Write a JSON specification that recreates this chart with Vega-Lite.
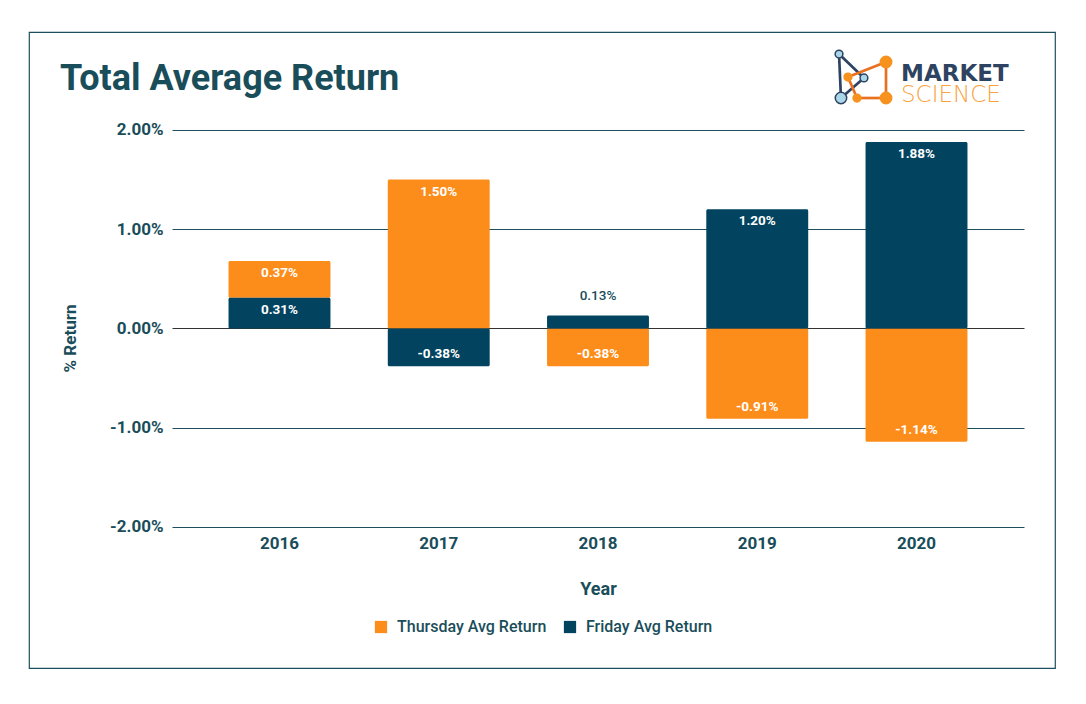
{
  "$schema": "https://vega.github.io/schema/vega-lite/v6.json",
  "width": 1026,
  "height": 636,
  "autosize": {"type": "none"},
  "padding": {"left": 29, "top": 32, "right": 31, "bottom": 36},
  "background": "white",
  "config": {
    "font": "Roboto",
    "view": {"stroke": "#1d4f5e", "strokeWidth": 1.2},
    "locale": {"number": {"decimal": ".", "thousands": ",", "grouping": [3], "currency": ["$", ""], "minus": "-"}}
  },
  "title": {
    "text": "Total Average Return",
    "anchor": "start",
    "frame": "group",
    "orient": "top",
    "fontSize": 36,
    "fontWeight": "bold",
    "font": "Roboto",
    "color": "#1a4d5a",
    "baseline": "alphabetic",
    "offset": 0,
    "dx": 31,
    "dy": 94
  },
  "datasets": {
    "returns": [
      {"year": "2016", "series": "Thursday Avg Return", "value": 0.0037},
      {"year": "2016", "series": "Friday Avg Return", "value": 0.0031},
      {"year": "2017", "series": "Thursday Avg Return", "value": 0.0150},
      {"year": "2017", "series": "Friday Avg Return", "value": -0.0038},
      {"year": "2018", "series": "Thursday Avg Return", "value": -0.0038},
      {"year": "2018", "series": "Friday Avg Return", "value": 0.0013},
      {"year": "2019", "series": "Thursday Avg Return", "value": -0.0091},
      {"year": "2019", "series": "Friday Avg Return", "value": 0.0120},
      {"year": "2020", "series": "Thursday Avg Return", "value": -0.0114},
      {"year": "2020", "series": "Friday Avg Return", "value": 0.0188}
    ],
    "logoNodes": [
      {"lx": 78.95, "ly": 96.54, "group": "navy", "node": "small"},
      {"lx": 79.14, "ly": 89.62, "group": "navy", "node": "big"},
      {"lx": 81.38, "ly": 92.77, "group": "navy", "node": "small"},
      {"lx": 83.53, "ly": 95.28, "group": "orange", "node": "big"},
      {"lx": 83.53, "ly": 89.62, "group": "orange", "node": "big"},
      {"lx": 79.82, "ly": 92.92, "group": "orange", "node": "small"},
      {"lx": 80.70, "ly": 89.62, "group": "orange", "node": "small"}
    ],
    "logoLinks": [
      {"x1": 78.95, "y1": 96.54, "x2": 79.14, "y2": 89.62, "group": "navy"},
      {"x1": 78.95, "y1": 96.54, "x2": 81.38, "y2": 92.77, "group": "navy"},
      {"x1": 81.38, "y1": 92.77, "x2": 79.14, "y2": 89.62, "group": "navy"},
      {"x1": 79.82, "y1": 92.92, "x2": 83.53, "y2": 95.28, "group": "orange"},
      {"x1": 83.53, "y1": 95.28, "x2": 83.53, "y2": 89.62, "group": "orange"},
      {"x1": 83.53, "y1": 89.62, "x2": 80.70, "y2": 89.62, "group": "orange"},
      {"x1": 80.70, "y1": 89.62, "x2": 79.82, "y2": 92.92, "group": "orange"}
    ],
    "logoText": [
      {"lx": 84.99, "ly": 93.40, "word": "MARKET", "group": "navy"},
      {"lx": 84.99, "ly": 90.10, "word": "SCIENCE", "group": "orange"}
    ]
  },
  "resolve": {"scale": {"x": "independent", "y": "independent", "color": "independent"}},
  "layer": [
    {
      "data": {"name": "returns"},
      "transform": [
        {"stack": "value", "groupby": ["year"], "sort": [{"field": "series", "order": "ascending"}], "as": ["v0", "v1"]}
      ],
      "encoding": {
        "x": {
          "field": "year",
          "type": "nominal",
          "scale": {"range": [143, 995], "paddingInner": 0.36, "paddingOuter": 0.355},
          "axis": {
            "orient": "bottom",
            "offset": -141,
            "domain": false,
            "ticks": false,
            "grid": false,
            "labelAngle": 0,
            "labelFont": "Roboto",
            "labelFontSize": 17,
            "labelFontWeight": "bold",
            "labelColor": "#1a4d5a",
            "labelPadding": 8,
            "title": "Year",
            "titleFont": "Roboto",
            "titleFontSize": 18,
            "titleFontWeight": "bold",
            "titleColor": "#1a4d5a",
            "titleY": 62,
            "titleBaseline": "middle"
          }
        },
        "y": {
          "field": "v1",
          "type": "quantitative",
          "scale": {"domain": [-0.034207, 0.02987], "nice": false, "zero": false}
        }
      },
      "layer": [
        {
          "mark": {"type": "bar", "cornerRadius": 1.5},
          "encoding": {
            "y": {
              "field": "v0",
              "type": "quantitative",
              "scale": {"domain": [-0.034207, 0.02987], "nice": false, "zero": false},
              "axis": {
                "values": [-0.02, -0.01, 0, 0.01, 0.02],
                "format": ".2%",
                "offset": -143,
                "domain": false,
                "ticks": false,
                "grid": true,
                "gridColor": {"condition": {"test": "datum.value === 0", "value": "#333333"}, "value": "#1d4f5e"},
                "gridWidth": 1,
                "gridOpacity": 1,
                "labelFont": "Roboto",
                "labelFontSize": 17,
                "labelFontWeight": "bold",
                "labelColor": "#1a4d5a",
                "labelPadding": 9,
                "title": "% Return",
                "titleFont": "Roboto",
                "titleFontSize": 17,
                "titleFontWeight": "bold",
                "titleColor": "#1a4d5a",
                "titleAngle": -90,
                "titleX": -102,
                "titleY": 306,
                "titleAlign": "center",
                "titleBaseline": "middle"
              }
            },
            "y2": {"field": "v1"},
            "color": {
              "field": "series",
              "type": "nominal",
              "scale": {"domain": ["Thursday Avg Return", "Friday Avg Return"], "range": ["#fd8d1b", "#02445f"]},
              "legend": {
                "orient": "none",
                "legendX": 344,
                "legendY": 587,
                "direction": "horizontal",
                "title": null,
                "symbolType": "square",
                "symbolSize": 150,
                "symbolStrokeWidth": 0,
                "labelFont": "Roboto",
                "labelFontSize": 16,
                "labelFontWeight": 500,
                "labelColor": "#1a4d5a",
                "labelOffset": 8,
                "columnPadding": 15
              }
            }
          }
        },
        {
          "transform": [{"filter": "datum.value >= 0.002"}],
          "mark": {"type": "text", "dy": 12, "baseline": "middle", "align": "center", "fontSize": 13.5, "fontWeight": "bold", "color": "white"},
          "encoding": {"text": {"field": "value", "type": "quantitative", "format": ".2%"}}
        },
        {
          "transform": [{"filter": "datum.value < 0"}],
          "mark": {"type": "text", "dy": -12, "baseline": "middle", "align": "center", "fontSize": 13.5, "fontWeight": "bold", "color": "white"},
          "encoding": {"text": {"field": "value", "type": "quantitative", "format": ".2%"}}
        },
        {
          "transform": [{"filter": "datum.value >= 0 && datum.value < 0.002"}],
          "mark": {"type": "text", "dy": -20, "baseline": "middle", "align": "center", "fontSize": 13.5, "fontWeight": 500, "color": "#1a4d5a"},
          "encoding": {"text": {"field": "value", "type": "quantitative", "format": ".2%"}}
        }
      ]
    },
    {
      "layer": [
        {
          "data": {"name": "logoLinks"},
          "mark": {"type": "rule", "strokeWidth": 2.7},
          "encoding": {
            "x": {"field": "x1", "type": "quantitative", "scale": {"domain": [0, 100], "nice": false, "zero": false}, "axis": null},
            "x2": {"field": "x2"},
            "y": {"field": "y1", "type": "quantitative", "scale": {"domain": [0, 100], "nice": false, "zero": false}, "axis": null},
            "y2": {"field": "y2"},
            "color": {"field": "group", "type": "nominal", "scale": {"domain": ["navy", "orange"], "range": ["#2d4361", "#e8711f"]}, "legend": null}
          }
        },
        {
          "data": {"name": "logoNodes"},
          "mark": {"type": "point", "shape": "circle", "filled": true, "strokeWidth": 1.5, "opacity": 1},
          "encoding": {
            "x": {"field": "lx", "type": "quantitative", "scale": {"domain": [0, 100], "nice": false, "zero": false}, "axis": null},
            "y": {"field": "ly", "type": "quantitative", "scale": {"domain": [0, 100], "nice": false, "zero": false}, "axis": null},
            "fill": {"field": "group", "type": "nominal", "scale": {"domain": ["navy", "orange"], "range": ["#a9d6e8", "#f7921e"]}, "legend": null},
            "stroke": {"field": "group", "type": "nominal", "scale": {"domain": ["navy", "orange"], "range": ["#2d4361", "#f7921e"]}, "legend": null},
            "size": {"field": "node", "type": "nominal", "scale": {"domain": ["small", "big"], "range": [60, 130]}, "legend": null}
          }
        },
        {
          "data": {"name": "logoText"},
          "transform": [{"filter": "datum.group === 'navy'"}],
          "mark": {"type": "text", "align": "left", "baseline": "middle", "fontSize": 23, "font": "DejaVu Sans", "fontWeight": "bold", "color": "#2d4361"},
          "encoding": {
            "x": {"field": "lx", "type": "quantitative", "scale": {"domain": [0, 100], "nice": false, "zero": false}, "axis": null},
            "y": {"field": "ly", "type": "quantitative", "scale": {"domain": [0, 100], "nice": false, "zero": false}, "axis": null},
            "text": {"field": "word"}
          }
        },
        {
          "data": {"name": "logoText"},
          "transform": [{"filter": "datum.group === 'orange'"}],
          "mark": {"type": "text", "align": "left", "baseline": "middle", "fontSize": 23, "font": "DejaVu Sans", "fontWeight": 200, "color": "#f9a23e"},
          "encoding": {
            "x": {"field": "lx", "type": "quantitative", "scale": {"domain": [0, 100], "nice": false, "zero": false}, "axis": null},
            "y": {"field": "ly", "type": "quantitative", "scale": {"domain": [0, 100], "nice": false, "zero": false}, "axis": null},
            "text": {"field": "word"}
          }
        }
      ]
    }
  ]
}
